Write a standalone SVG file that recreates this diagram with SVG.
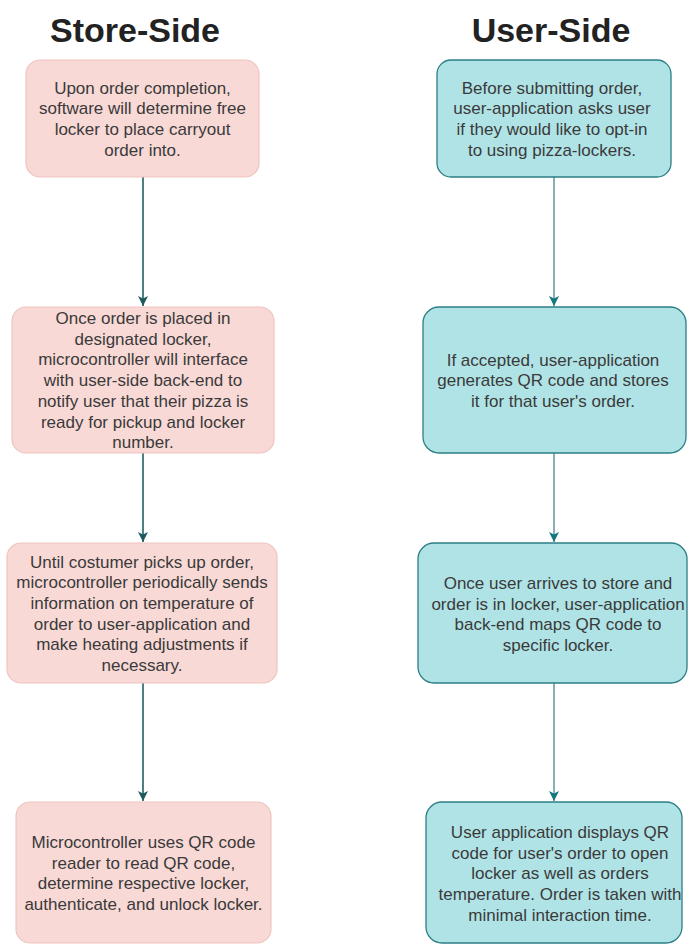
<svg xmlns="http://www.w3.org/2000/svg" width="688" height="945" viewBox="0 0 688 945">
<defs>
<style>
.title{font-family:"Liberation Sans",Arial,sans-serif;font-weight:bold;font-size:34px;fill:#222;text-anchor:middle}
.t{font-family:"Liberation Sans",Arial,sans-serif;font-size:17px;fill:#3a3a3a;text-anchor:middle}
.store{fill:#f8d9d6;stroke:#efc4c0;stroke-width:1.2}
.user{fill:#b0e3e6;stroke:#2b7f86;stroke-width:1.3}
.cs{stroke:#245f63;stroke-width:1.6;fill:none}
.cu{stroke:#6a9ea3;stroke-width:1.6;fill:none}
</style>
<marker id="ahs" viewBox="0 0 10 10" refX="10" refY="5" markerWidth="10" markerHeight="10" markerUnits="userSpaceOnUse" orient="auto">
<path d="M0,0 L10,5 L0,10 L2.5,5 Z" fill="#1d5a5e"/>
</marker>
<marker id="ahu" viewBox="0 0 10 10" refX="10" refY="5" markerWidth="10" markerHeight="10" markerUnits="userSpaceOnUse" orient="auto">
<path d="M0,0 L10,5 L0,10 L2.5,5 Z" fill="#14777e"/>
</marker>
</defs>
<rect width="688" height="945" fill="#ffffff"/>
<text class="title" x="135" y="42">Store-Side</text>
<text class="title" x="551" y="42">User-Side</text>

<g id="connectors">
<line class="cs" x1="143" y1="177" x2="143" y2="306" marker-end="url(#ahs)"/>
<line class="cs" x1="143" y1="453" x2="143" y2="542" marker-end="url(#ahs)"/>
<line class="cs" x1="143" y1="683" x2="143" y2="801" marker-end="url(#ahs)"/>
<line class="cu" x1="554" y1="177" x2="554" y2="306" marker-end="url(#ahu)"/>
<line class="cu" x1="554" y1="453" x2="554" y2="542" marker-end="url(#ahu)"/>
<line class="cu" x1="554" y1="683" x2="554" y2="801" marker-end="url(#ahu)"/>
</g>

<g id="store1">
<rect class="store" x="26" y="60" width="233" height="117" rx="14"/>
<text class="t" x="142.5" y="93.5">Upon order completion,</text>
<text class="t" x="142.5" y="114.2">software will determine free</text>
<text class="t" x="142.5" y="134.9">locker to place carryout</text>
<text class="t" x="142.5" y="155.6">order into.</text>
</g>
<g id="store2">
<rect class="store" x="12" y="307" width="262" height="146" rx="14"/>
<text class="t" x="143" y="324">Once order is placed in</text>
<text class="t" x="143" y="344.7">designated locker,</text>
<text class="t" x="143" y="365.4">microcontroller will interface</text>
<text class="t" x="143" y="386.1">with user-side back-end to</text>
<text class="t" x="143" y="406.8">notify user that their pizza is</text>
<text class="t" x="143" y="427.5">ready for pickup and locker</text>
<text class="t" x="143" y="448.2">number.</text>
</g>
<g id="store3">
<rect class="store" x="7" y="543" width="270" height="140" rx="14"/>
<text class="t" x="142" y="567.5">Until costumer picks up order,</text>
<text class="t" x="142" y="588.2">microcontroller periodically sends</text>
<text class="t" x="142" y="608.9">information on temperature of</text>
<text class="t" x="142" y="629.6">order to user-application and</text>
<text class="t" x="142" y="650.3">make heating adjustments if</text>
<text class="t" x="142" y="671">necessary.</text>
</g>
<g id="store4">
<rect class="store" x="16" y="802" width="255" height="141" rx="14"/>
<text class="t" x="143.5" y="848">Microcontroller uses QR code</text>
<text class="t" x="143.5" y="868.7">reader to read QR code,</text>
<text class="t" x="143.5" y="889.4">determine respective locker,</text>
<text class="t" x="143.5" y="910.1">authenticate, and unlock locker.</text>
</g>

<g id="user1">
<rect class="user" x="437" y="60" width="234" height="117" rx="14"/>
<text class="t" x="552" y="93.5">Before submitting order,</text>
<text class="t" x="552" y="114.2">user-application asks user</text>
<text class="t" x="552" y="134.9">if they would like to opt-in</text>
<text class="t" x="552" y="155.6">to using pizza-lockers.</text>
</g>
<g id="user2">
<rect class="user" x="423" y="307" width="263" height="146" rx="16"/>
<text class="t" x="553" y="365.5">If accepted, user-application</text>
<text class="t" x="553" y="386.2">generates QR code and stores</text>
<text class="t" x="553" y="406.9">it for that user's order.</text>
</g>
<g id="user3">
<rect class="user" x="418" y="543" width="269" height="140" rx="16"/>
<text class="t" x="558" y="589">Once user arrives to store and</text>
<text class="t" x="558" y="609.7">order is in locker, user-application</text>
<text class="t" x="558" y="630.4">back-end maps QR code to</text>
<text class="t" x="558" y="651.1">specific locker.</text>
</g>
<g id="user4">
<rect class="user" x="426" y="802" width="256" height="141" rx="16"/>
<text class="t" x="560" y="838">User application displays QR</text>
<text class="t" x="560" y="858.7">code for user's order to open</text>
<text class="t" x="560" y="879.4">locker as well as orders</text>
<text class="t" x="560" y="900.1">temperature. Order is taken with</text>
<text class="t" x="560" y="920.8">minimal interaction time.</text>
</g>
</svg>
